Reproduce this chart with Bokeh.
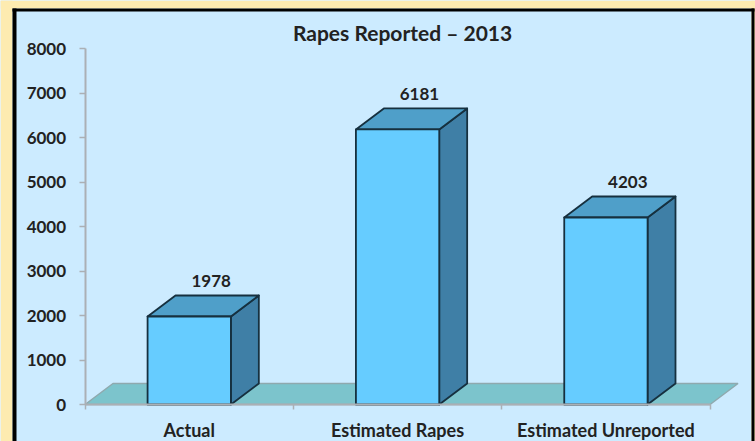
from bokeh.plotting import figure
from bokeh.models import Range1d, LinearAxis, FixedTicker, BoxAnnotation, Label, ColumnDataSource
from bokeh.core.properties import value
from bokeh.embed import file_html
from bokeh.resources import INLINE

categories = ["Actual", "Estimated Rapes", "Estimated Unreported"]
values = [1978, 6181, 4203]
y_ticks = [0, 1000, 2000, 3000, 4000, 5000, 6000, 7000, 8000]
title_text = "Rapes Reported \u2013 2013"

FONT = "Lato"
PANEL = "#CCEBFF"
CREAM = "#FDEBB0"
FRONT = "#66CCFF"
TOP = "#4F9FC9"
SIDE = "#3F7FA6"
FLOOR = "#7CC4CC"
EDGE = "#16303F"
AXIS = "#ABB0B5"
TEXT = "#222222"
W, H = 755, 441
half = 0.2        # half bar width in category units
dx = 0.134        # depth offset, category units
dy = 472          # depth offset, value units

p = figure(width=W, height=H, output_backend="svg", toolbar_location=None,
           x_range=Range1d(-0.406, 3.218), y_range=Range1d(-831, 9079),
           x_axis_type=None, y_axis_type=None,
           min_border_left=0, min_border_right=0, min_border_top=0, min_border_bottom=0,
           border_fill_color=PANEL, background_fill_color=PANEL, outline_line_color=None)
p.grid.visible = False

p.add_layout(Label(x=1.524, y=8350, text=title_text, text_font=FONT, text_font_size="21px",
                   text_font_style="bold", text_color=TEXT, text_align="center", text_baseline="middle"))

# floor
p.patch([0, dx, 3 + dx, 3], [0, dy, dy, 0], fill_color=FLOOR, line_color="#8FA9AE", line_width=1.5)

# bars
xs = [i + 0.5 for i in range(len(values))]
front = ColumnDataSource(dict(
    xs=[[x - half, x + half, x + half, x - half] for x in xs],
    ys=[[0, 0, v, v] for v in values]))
top = ColumnDataSource(dict(
    xs=[[x - half, x + half, x + half + dx, x - half + dx] for x in xs],
    ys=[[v, v, v + dy, v + dy] for v in values]))
side = ColumnDataSource(dict(
    xs=[[x + half, x + half + dx, x + half + dx, x + half] for x in xs],
    ys=[[0, dy, v + dy, v] for v in values]))
for src, col in ((side, SIDE), (top, TOP), (front, FRONT)):
    p.patches("xs", "ys", source=src, fill_color=col, line_color=EDGE, line_width=1.8, line_join="round")

# value labels
p.text([x + 0.105 for x in xs], [v + dy + 180 for v in values], text=[str(v) for v in values],
       text_font=value(FONT), text_font_size="17px", text_font_style="bold", text_color=TEXT,
       text_align="center", text_baseline="bottom")

# axes
yax = LinearAxis(ticker=FixedTicker(ticks=y_ticks), bounds=(0, 8000), fixed_location=0,
                 axis_line_color=AXIS, axis_line_width=2,
                 major_tick_line_color=AXIS, major_tick_line_width=1.5,
                 major_tick_out=6, major_tick_in=0, minor_tick_line_color=None,
                 major_label_standoff=13, major_label_text_font=FONT,
                 major_label_text_font_size="17px", major_label_text_font_style="bold",
                 major_label_text_color=TEXT)
p.add_layout(yax, "left")

centers = [i + 0.5 for i in range(len(categories))]
xax = LinearAxis(ticker=FixedTicker(ticks=centers, minor_ticks=list(range(len(categories) + 1))),
                 bounds=(0, 3), fixed_location=0, axis_line_color=AXIS, axis_line_width=2,
                 major_tick_line_color=None, major_tick_out=0, major_tick_in=0,
                 minor_tick_line_color=AXIS, minor_tick_line_width=1.5,
                 minor_tick_out=5, minor_tick_in=0,
                 major_label_standoff=9, major_label_text_font=FONT,
                 major_label_text_font_size="18px", major_label_text_font_style="bold",
                 major_label_text_color=TEXT,
                 major_label_overrides={c: n for c, n in zip(centers, categories)})
p.add_layout(xax, "below")

# outer frame: cream strip and black border
def strip(l, r, b, tp, col):
    p.add_layout(BoxAnnotation(left=l, right=r, top=tp, bottom=b, left_units="screen", right_units="screen",
                               top_units="screen", bottom_units="screen", fill_color=col, fill_alpha=1,
                               line_color=None, level="annotation"))
strip(0, 12, 0, H, CREAM)
strip(W - 4, W, 0, H, CREAM)
strip(0, W, H - 8, H, CREAM)
strip(12, 16, 0, H - 8, "#000000")
strip(W - 4, W - 1, 0, H - 8, "#000000")
strip(12, W - 1, H - 11, H - 8, "#000000")

open("out.html", "w").write(file_html(p, INLINE))
